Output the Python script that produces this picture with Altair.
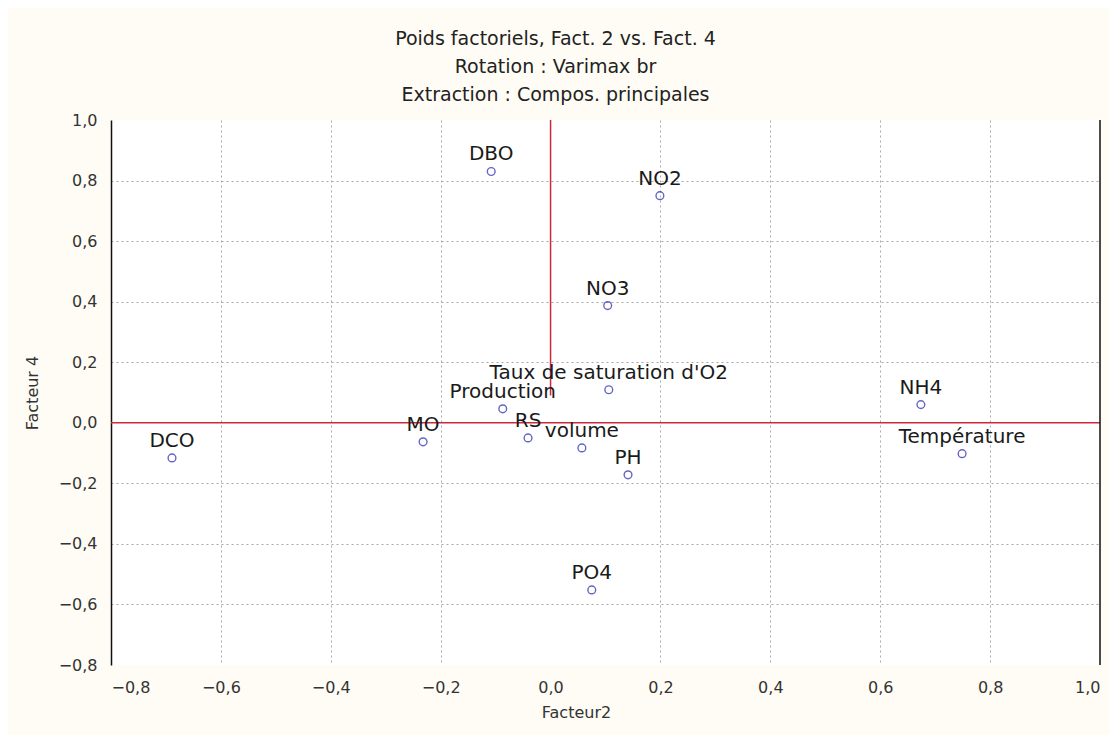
import altair as alt
import pandas as pd

names = ["DBO", "NO2", "NO3", "Taux de saturation d'O2", "Production", "RS",
         "volume", "PH", "PO4", "MO", "DCO", "NH4", "Température"]
fact_x = [-0.108, 0.199, 0.104, 0.106, -0.087, -0.041, 0.057, 0.141, 0.075,
          -0.232, -0.689, 0.674, 0.749]
fact_y = [0.830, 0.750, 0.387, 0.109, 0.046, -0.050, -0.083, -0.172, -0.552,
          -0.063, -0.116, 0.060, -0.102]
ticks = [-0.8, -0.6, -0.4, -0.2, 0.0, 0.2, 0.4, 0.6, 0.8, 1.0]
title_lines = ["Poids factoriels, Fact. 2 vs. Fact. 4",
               "Rotation : Varimax br",
               "Extraction : Compos. principales"]

df = pd.DataFrame({"name": names, "x": fact_x, "y": fact_y})

FONT = "DejaVu Sans"
lbl_expr = "replace(format(datum.value, '.1f'), '.', ',')"
grid_off = "abs(datum.value) < 1e-9 || abs(datum.value - 1) < 1e-9 || abs(datum.value + 0.8) < 1e-9"

xs = alt.Scale(domain=[-0.8, 1.0], nice=False, zero=False)
ys = alt.Scale(domain=[-0.8, 1.0], nice=False, zero=False)

xaxis = alt.Axis(values=ticks, labelExpr=lbl_expr, title="Facteur2", domain=False,
                 ticks=False, grid=True, gridColor="#a8a8a8", gridDash=[2, 3],
                 gridOpacity=alt.condition(grid_off, alt.value(0), alt.value(1)),
                 labelFont=FONT, labelFontSize=16, labelColor="#333333", labelPadding=14,
                 titleFont=FONT, titleFontSize=16, titleFontWeight="normal",
                 titleColor="#333333", titleX=465, titleY=47, titleBaseline="middle")
yaxis = alt.Axis(values=ticks, labelExpr=lbl_expr, title="Facteur 4", domain=True,
                 domainColor="#111111", domainWidth=1.5, ticks=False, grid=True,
                 gridColor="#a8a8a8", gridDash=[2, 3],
                 gridOpacity=alt.condition(grid_off, alt.value(0), alt.value(1)),
                 labelFont=FONT, labelFontSize=16, labelColor="#333333", labelPadding=14,
                 titleFont=FONT, titleFontSize=16, titleFontWeight="normal",
                 titleColor="#333333", titlePadding=18)

base = alt.Chart(df)

pts = base.mark_point(shape="circle", size=60, filled=False, color="#2424b0",
                      strokeWidth=1.4).encode(
    x=alt.X("x:Q", scale=xs, axis=xaxis),
    y=alt.Y("y:Q", scale=ys, axis=yaxis),
)

labels = base.mark_text(font=FONT, fontSize=20, color="#1a1a1a", baseline="bottom",
                        align="center", dy=-7).encode(
    x=alt.X("x:Q", scale=xs), y=alt.Y("y:Q", scale=ys), text="name:N")

hline = alt.Chart(pd.DataFrame({"y": [0.0]})).mark_rule(color="#cc2a3a", strokeWidth=1.5).encode(
    y=alt.Y("y:Q", scale=ys))
vline = alt.Chart(pd.DataFrame({"x": [0.0], "y": [1.0], "y2": [0.09]})).mark_rule(
    color="#cc2a3a", strokeWidth=1.5).encode(
    x=alt.X("x:Q", scale=xs), y=alt.Y("y:Q", scale=ys), y2="y2:Q")
rframe = alt.Chart(pd.DataFrame({"x": [1.0], "y": [-0.8], "y2": [1.0]})).mark_rule(
    color="#111111", strokeWidth=1.5).encode(
    x=alt.X("x:Q", scale=xs), y=alt.Y("y:Q", scale=ys), y2="y2:Q")

chart = alt.layer(hline, vline, rframe, pts, labels).properties(
    width=989, height=545,
    autosize=alt.AutoSizeParams(type="none"),
    padding={"left": 103, "top": 112, "right": 9, "bottom": 70},
    background="#fefcf4",
    title=alt.Title(text=title_lines, font=FONT, fontSize=19, fontWeight="normal",
                    color="#222222", lineHeight=28, anchor="middle", dx=-50, offset=7),
).configure_view(fill="white", stroke=None)

chart.save("out.html", embed_options={"renderer": "svg", "actions": False})
